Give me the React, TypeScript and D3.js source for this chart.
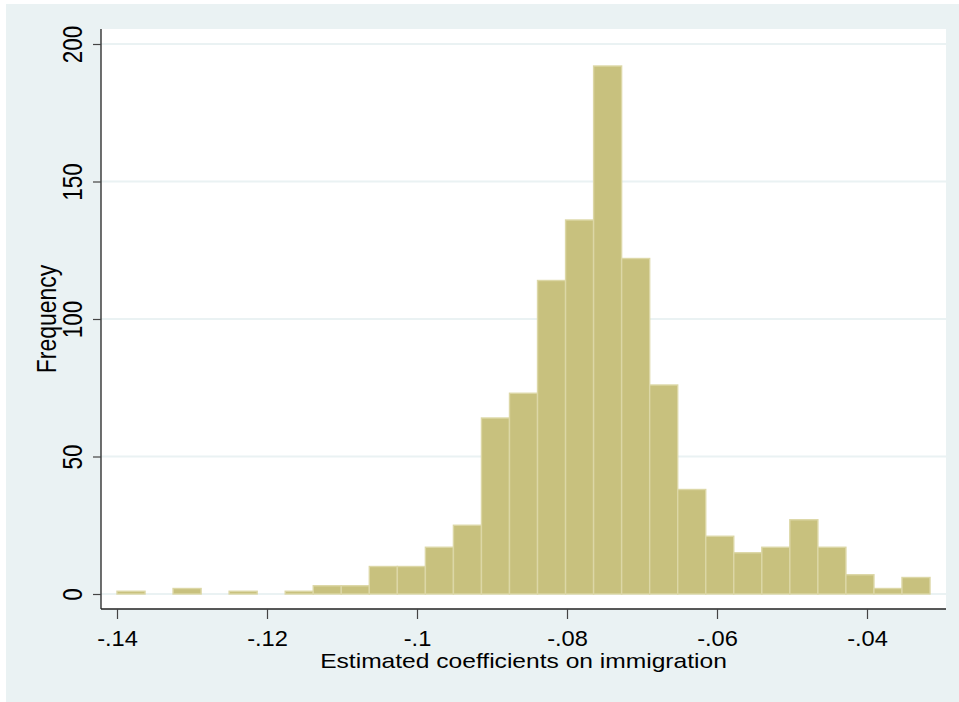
import * as d3 from "d3";
import { useRef, useEffect } from "react";

// histogram of estimated coefficients (Stata s2color look)
const binStart = -0.14;
const binWidth = 0.003738;
const counts = [
  1, 0, 2, 0, 1, 0, 1, 3, 3, 10, 10, 17, 25, 64, 73, 114, 136, 192, 122, 76,
  38, 21, 15, 17, 27, 17, 7, 2, 6,
];
const xTicks = [-0.14, -0.12, -0.1, -0.08, -0.06, -0.04];
const yTicks = [0, 50, 100, 150, 200];

const xTitle = "Estimated coefficients on immigration";
const yTitle = "Frequency";

const W = 959;
const H = 702;
const plot = { left: 101, right: 946, top: 29, bottom: 609 };
const font = "'Liberation Sans', Arial, sans-serif";

// stata style: -.14, -.1
const fmt = (v: number) =>
  (v < 0 ? "-" : "") + String(+Math.abs(v).toFixed(2)).replace(/^0\./, ".");

export default function App() {
  const svgRef = useRef<SVGSVGElement>(null);

  const xScale = d3.scaleLinear().domain([-0.14, -0.04]).range([117, 867]);
  const yScale = d3.scaleLinear().domain([0, 200]).range([594, 44]);

  const bins = counts.map((c, i) => ({
    x0: binStart + i * binWidth,
    x1: binStart + (i + 1) * binWidth,
    c,
  }));

  useEffect(() => {
    const svg = d3.select(svgRef.current);

    const gx = svg
      .select<SVGGElement>(".x-axis")
      .attr("transform", `translate(0,${plot.bottom})`)
      .call(
        d3
          .axisBottom(xScale)
          .tickValues(xTicks)
          .tickSize(10)
          .tickSizeOuter(0)
          .tickPadding(12)
          .tickFormat((d) => fmt(d as number))
      );
    gx.select(".domain").remove();
    gx.selectAll("line").attr("stroke", "#444").attr("stroke-width", 1.2);
    gx.selectAll("text")
      .attr("fill", "#000")
      .attr("transform", "scale(1.1,1)")
      .style("font-family", font)
      .style("font-size", "21.5px");

    const gy = svg
      .select<SVGGElement>(".y-axis")
      .attr("transform", `translate(${plot.left},0)`)
      .call(
        d3
          .axisLeft(yScale)
          .tickValues(yTicks)
          .tickSize(8)
          .tickSizeOuter(0)
          .tickPadding(0)
      );
    gy.select(".domain").remove();
    gy.selectAll("line").attr("stroke", "#444").attr("stroke-width", 1.2);
    gy.selectAll("text")
      .attr("fill", "#000")
      .attr("x", 0)
      .attr("dy", 0)
      .attr("transform", "translate(-19,0) rotate(-90) scale(1,1.2)")
      .attr("text-anchor", "middle")
      .style("font-family", font)
      .style("font-size", "22.5px");
  }, []);

  return (
    <svg
      ref={svgRef}
      width={W}
      height={H}
      style={{ position: "absolute", left: 0, top: 0, background: "#fff" }}
    >
      <rect x={6} y={4} width={W - 6} height={H - 4} fill="#eaf2f3" />
      <rect
        x={plot.left}
        y={plot.top}
        width={plot.right - plot.left}
        height={plot.bottom - plot.top}
        fill="#fff"
      />

      {/* gridlines */}
      {yTicks.map((t) => (
        <line
          key={t}
          x1={plot.left}
          x2={plot.right}
          y1={yScale(t)}
          y2={yScale(t)}
          stroke="#eaf2f3"
          strokeWidth={2}
        />
      ))}

      {/* bars */}
      {bins
        .filter((b) => b.c > 0)
        .map((b, i) => (
          <rect
            key={i}
            x={xScale(b.x0)}
            y={yScale(b.c)}
            width={xScale(b.x1) - xScale(b.x0)}
            height={yScale(0) - yScale(b.c)}
            fill="#c8c17e"
            stroke="#dcd7a6"
            strokeWidth={1.4}
          />
        ))}

      {/* axis lines */}
      <line
        x1={plot.left}
        x2={plot.left}
        y1={plot.top}
        y2={plot.bottom}
        stroke="#222"
        strokeWidth={1.3}
      />
      <line
        x1={plot.left}
        x2={plot.right}
        y1={plot.bottom}
        y2={plot.bottom}
        stroke="#222"
        strokeWidth={1.3}
      />

      <g className="x-axis" />
      <g className="y-axis" />

      <text
        transform={`translate(${(plot.left + plot.right) / 2},668) scale(1.2,1)`}
        textAnchor="middle"
        fontFamily={font}
        fontSize={20.5}
      >
        {xTitle}
      </text>
      <text
        transform={`translate(56,${(plot.top + plot.bottom) / 2}) rotate(-90) scale(1,1.2)`}
        textAnchor="middle"
        fontFamily={font}
        fontSize={23}
      >
        {yTitle}
      </text>
    </svg>
  );
}
